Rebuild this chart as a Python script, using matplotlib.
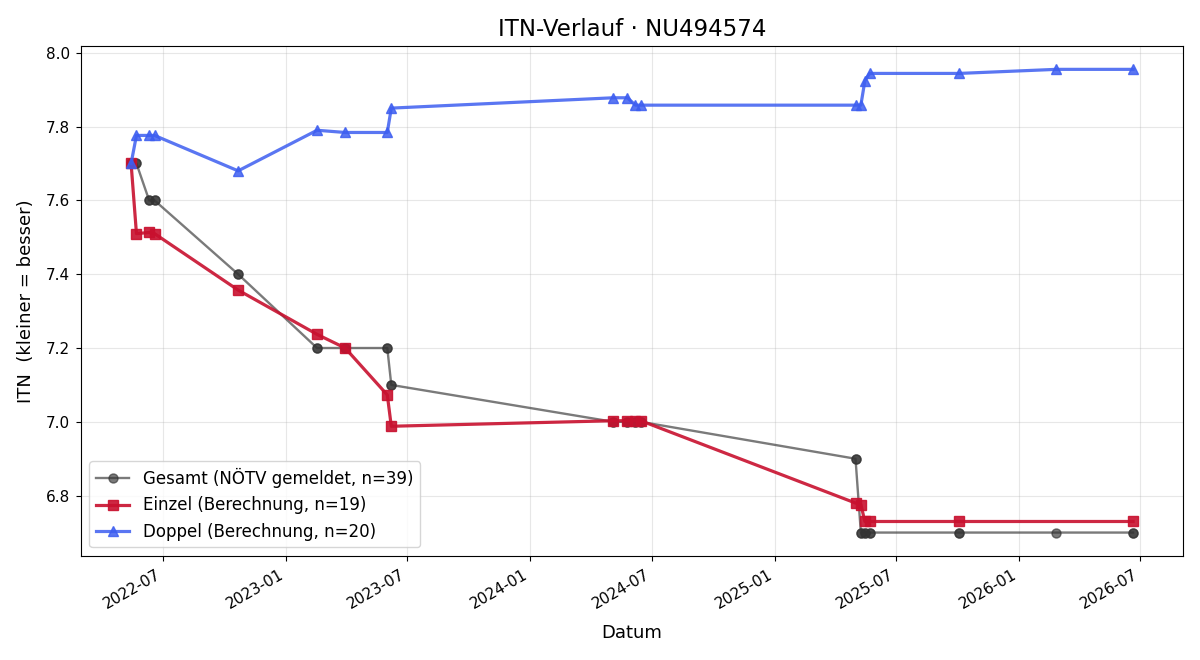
import numpy as np
import pandas as pd
import matplotlib
matplotlib.use('Agg')
import matplotlib.pyplot as plt
import matplotlib.dates as mdates

# Termine (Doppel hat einen Termin mehr als Einzel)
dates_doppel = ['2022-05-14', '2022-05-22', '2022-06-10', '2022-06-18', '2022-10-21',
                '2023-02-16', '2023-03-30', '2023-06-01', '2023-06-07',
                '2024-05-04', '2024-05-25', '2024-06-06', '2024-06-14',
                '2025-05-01', '2025-05-09', '2025-05-15', '2025-05-22',
                '2025-10-03', '2026-02-25', '2026-06-20']
itn_doppel = [7.70, 7.776, 7.776, 7.776, 7.68,
              7.79, 7.784, 7.784, 7.85,
              7.878, 7.878, 7.858, 7.858,
              7.858, 7.858, 7.924, 7.944,
              7.944, 7.955, 7.955]

dates_einzel = ['2022-05-14', '2022-05-22', '2022-06-10', '2022-06-18', '2022-10-21',
                '2023-02-16', '2023-03-30', '2023-06-01', '2023-06-07',
                '2024-05-04', '2024-05-25', '2024-06-06', '2024-06-14',
                '2025-05-01', '2025-05-09', '2025-05-15', '2025-05-22',
                '2025-10-03', '2026-06-20']
itn_einzel = [7.70, 7.51, 7.513, 7.51, 7.357,
              7.237, 7.20, 7.073, 6.988,
              7.003, 7.003, 7.003, 7.003,
              6.78, 6.776, 6.73, 6.73,
              6.73, 6.73]

# gemeldeter ITN (NÖTV) je Termin
gesamt_dates = dates_doppel
gesamt_itn = [7.7, 7.7, 7.6, 7.6, 7.4,
              7.2, 7.2, 7.2, 7.1,
              7.0, 7.0, 7.0, 7.0,
              6.9, 6.7, 6.7, 6.7,
              6.7, 6.7, 6.7]

# Gesamt = alle Einzel- und Doppel-Eintraege
g = pd.DataFrame({'d': pd.to_datetime(gesamt_dates), 'v': gesamt_itn})
g = g.set_index('d')['v']
alle = pd.to_datetime(pd.Series(dates_doppel + dates_einzel)).sort_values(kind='stable')
g_x = alle.values
g_y = g.loc[alle].values

d_x = pd.to_datetime(dates_doppel)
e_x = pd.to_datetime(dates_einzel)

fig, ax = plt.subplots(figsize=(12, 6.6), dpi=100)

ax.plot(g_x, g_y, color='#333333', alpha=0.65, marker='o', markersize=6.5,
        linewidth=1.7, label='Gesamt (NÖTV gemeldet, n=%d)' % len(g_x))
ax.plot(e_x, itn_einzel, color='#c8102e', alpha=0.9, marker='s', markersize=7.5,
        linewidth=2.3, label='Einzel (Berechnung, n=%d)' % len(e_x))
ax.plot(d_x, itn_doppel, color='#3d5ef0', alpha=0.85, marker='^', markersize=7.5,
        linewidth=2.3, label='Doppel (Berechnung, n=%d)' % len(d_x))

ax.set_title('ITN-Verlauf · NU494574', fontsize=16.5, pad=7)
ax.set_xlabel('Datum', fontsize=13, labelpad=9)
ax.set_ylabel('ITN  (kleiner = besser)', fontsize=13, labelpad=8)
ax.tick_params(labelsize=11, length=3.9, pad=3.9)
ax.grid(True, alpha=0.3)
ax.xaxis.set_major_locator(mdates.MonthLocator(bymonth=[1, 7]))
ax.xaxis.set_major_formatter(mdates.DateFormatter('%Y-%m'))
fig.autofmt_xdate()
ax.legend(loc='lower left', fontsize=12)

fig.subplots_adjust(left=0.0675, right=0.986, top=0.930, bottom=0.158)
fig.savefig('out.png')
